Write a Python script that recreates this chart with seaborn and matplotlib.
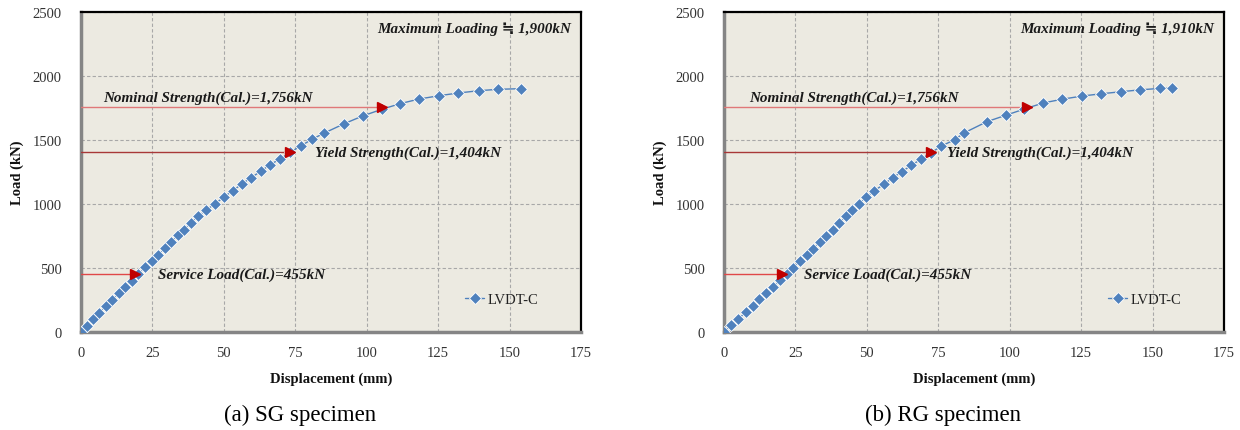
import numpy as np
import pandas as pd
import seaborn as sns
import matplotlib.pyplot as plt

# LVDT-C load-displacement readings
sg_disp = [0, 2.2, 4.3, 6.3, 8.6, 10.9, 13.2, 15.5, 17.7, 20.0, 22.4, 24.8, 27.0, 29.4,
           31.6, 33.8, 36.0, 38.5, 41.0, 43.9, 47.0, 50.0, 53.2, 56.3, 59.6, 62.9, 66.2,
           69.8, 73.3, 77.0, 80.9, 85.2, 92.2, 98.6, 105.3, 111.7, 118.3, 125.3, 132.0,
           139.2, 146.0, 154.0]
sg_load = [0, 49, 101, 148, 203, 250, 301, 353, 400, 450, 504, 553, 603, 655,
           705, 754, 800, 853, 905, 955, 1002, 1055, 1104, 1157, 1206, 1256, 1307,
           1354, 1404, 1455, 1506, 1555, 1628, 1688, 1740, 1784, 1820, 1846, 1867,
           1885, 1896, 1901]

rg_disp = [0, 2.6, 4.9, 7.6, 10.1, 12.4, 14.8, 17.3, 19.7, 21.9, 24.3, 26.6, 29.0, 31.2,
           33.5, 35.8, 38.0, 40.4, 42.7, 44.9, 47.2, 49.8, 52.4, 55.9, 59.0, 62.3, 65.6,
           69.1, 72.5, 76.1, 80.7, 84.0, 92.0, 98.6, 105.1, 111.7, 118.2, 125.2, 132.0,
           138.9, 145.7, 152.5, 156.8]
rg_load = [0, 52, 101, 153, 203, 254, 301, 353, 403, 452, 502, 553, 603, 652,
           702, 751, 800, 853, 903, 952, 1002, 1053, 1100, 1154, 1204, 1253, 1303,
           1352, 1401, 1453, 1502, 1555, 1643, 1693, 1742, 1789, 1818, 1843, 1861,
           1877, 1892, 1903, 1908]

# calculated strengths and where the arrows stop on each curve
nominal_kn = 1756
yield_kn = 1404
service_kn = 455
sg_tips = [106.8, 74.9, 20.4]
rg_tips = [107.7, 73.9, 21.9]
max_loads = ["1,900kN", "1,910kN"]
captions = ["(a) SG specimen", "(b) RG specimen"]

sns.set_style("white")
plt.rcParams['font.family'] = ['Liberation Serif', 'DejaVu Serif']

fig = plt.figure(figsize=(12.4, 4.31), dpi=100)
ax_left = fig.add_axes([81 / 1240, 98 / 431, 500 / 1240, 320 / 431])
ax_right = fig.add_axes([724 / 1240, 98 / 431, 500 / 1240, 320 / 431])

panels = [
    (ax_left, sg_disp, sg_load, sg_tips, max_loads[0], captions[0], [7.8, 82, 26.9], 300),
    (ax_right, rg_disp, rg_load, rg_tips, max_loads[1], captions[1], [8.8, 78, 28], 943),
]

ann_font = dict(fontsize=10.9, style='italic', weight='bold', color='#1a1a1a')

for ax, disp, load, tips, max_txt, cap, text_x, cap_x in panels:
    df = pd.DataFrame({'Displacement': disp, 'Load': load})
    ax.set_facecolor('#ECEAE1')

    sns.lineplot(data=df, x='Displacement', y='Load', ax=ax, sort=False,
                 color='#4F81BD', linewidth=1.0, marker='D', markersize=6,
                 markeredgecolor='white', markeredgewidth=0.6, label='LVDT-C', zorder=4)

    # reference lines with red arrowheads
    levels = [nominal_kn, yield_kn, service_kn]
    line_cols = ['#E07878', '#A83838', '#E04848']
    for lvl, tip, col in zip(levels, tips, line_cols):
        ax.plot([0, tip], [lvl, lvl], color=col, linewidth=1.0, zorder=3)
        ax.plot([tip - 1.6], [lvl], marker='>', color='#C00000', markersize=7.5,
                linestyle='none', zorder=5)

    ax.text(text_x[0], nominal_kn + 25, 'Nominal Strength(Cal.)=1,756kN',
            ha='left', va='bottom', **ann_font)
    ax.text(text_x[1], yield_kn, 'Yield Strength(Cal.)=1,404kN',
            ha='left', va='center', **ann_font)
    ax.text(text_x[2], service_kn, 'Service Load(Cal.)=455kN',
            ha='left', va='center', **ann_font)
    ax.text(171.5, 2370, 'Maximum Loading \u2252 ' + max_txt,
            ha='right', va='center', family=['Liberation Serif', 'DejaVu Sans'], **ann_font)

    ax.set_xlim(0, 175)
    ax.set_ylim(0, 2500)
    ax.set_xticks(np.arange(0, 176, 25))
    ax.set_yticks(np.arange(0, 2501, 500))
    ax.grid(True, color='#A8A8A8', linestyle=(0, (3, 2)), linewidth=0.8)
    ax.set_axisbelow(True)
    ax.tick_params(length=0, labelsize=10.5, colors='#333333')
    ax.tick_params(axis='y', pad=14)
    ax.tick_params(axis='x', pad=10)

    ax.set_xlabel('Displacement (mm)', fontsize=10.5, weight='bold', labelpad=9, color='#111111')
    ax.set_ylabel('Load (kN)', fontsize=10.5, weight='bold', labelpad=6, color='#111111')

    for side in ['left', 'bottom']:
        ax.spines[side].set_color('#858585')
        ax.spines[side].set_linewidth(2.5)
    for side in ['top', 'right']:
        ax.spines[side].set_color('black')
        ax.spines[side].set_linewidth(1.6)

    leg = ax.legend(loc='center right', bbox_to_anchor=(0.94, 0.103), frameon=False,
                    handlelength=1.3, handletextpad=0.2, fontsize=10.5)
    for t in leg.get_texts():
        t.set_color('#222222')

    fig.text(cap_x / 1240, 16 / 431, cap, ha='center', va='center', fontsize=16.5,
             color='black')

fig.savefig('out.png', dpi=100)
